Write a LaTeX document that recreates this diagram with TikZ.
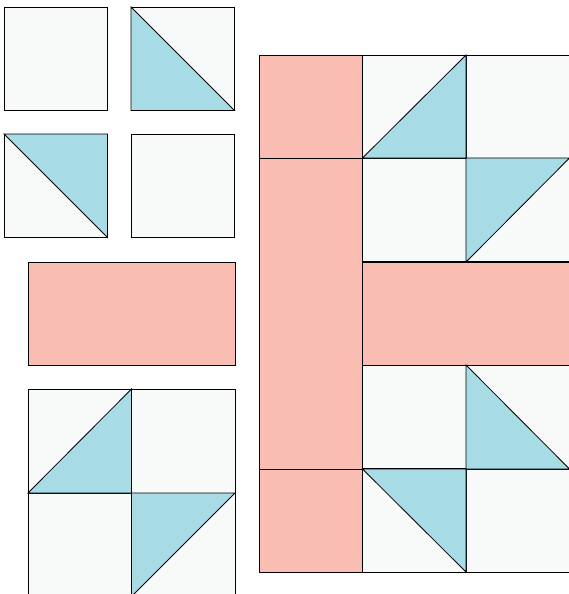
\documentclass[tikz,border=0pt]{standalone}
\definecolor{qsPink}{RGB}{249,189,180}
\definecolor{qsBlue}{RGB}{167,220,230}
\definecolor{qsBase}{RGB}{248,250,250}
\usepackage{tikz}
\usetikzlibrary{positioning}

\begin{document}
\begin{tikzpicture}[x=1pt,y=-1pt,line width=0.8pt]
    \tikzset{
        patch/.style={fill=qsBase, draw=black},
        tri/.style={fill=qsBlue, draw=black},
        bar/.style={fill=qsPink, draw=black}
    }
    \useasboundingbox (0,0) rectangle (568,594);
    \def\u{103.5}

    % loose pieces (top left)
    \draw[patch] (4,7) rectangle ++(\u,\u);
    \draw[patch] (131,7) rectangle ++(\u,\u);
    \draw[tri] (131,7) -- (131,110.5) -- (234.5,110.5) -- cycle;
    \draw[patch] (4,134) rectangle ++(\u,\u);
    \draw[tri] (4,134) -- (107.5,134) -- (107.5,237.5) -- cycle;
    \draw[patch] (131,134) rectangle ++(\u,\u);

    % loose bar
    \draw[bar] (28,262) rectangle (235,365);

    % loose four-patch (cut off at bottom)
    \draw[patch] (28,389) rectangle (131.5,493);
    \draw[patch] (131.5,389) rectangle (235,493);
    \draw[patch] (28,493) rectangle (131.5,600);
    \draw[patch] (131.5,493) rectangle (235,600);
    \draw[tri] (131.5,389) -- (131.5,493) -- (28,493) -- cycle;
    \draw[tri] (131.5,493) -- (235,493) -- (131.5,596.5) -- cycle;

    % block (right), columns at 259 / 362.5 / 466 / 569.5
    \draw[bar] (259,55) rectangle (362.5,158);
    \draw[bar] (259,158) rectangle (362.5,469);
    \draw[bar] (259,469) rectangle (362.5,572);
    \foreach \y in {55,158,365,469}{
        \draw[patch] (362.5,\y) rectangle ++(\u,\u);
        \draw[patch] (466,\y) rectangle ++(\u,\u);
    }
    \draw[bar] (362.5,262) rectangle (570,365);
    % half-square triangles
    \draw[tri] (466,55) -- (466,158) -- (362.5,158) -- cycle;
    \draw[tri] (466,158) -- (569.5,158) -- (466,262) -- cycle;
    \draw[tri] (466,365) -- (466,469) -- (569.5,469) -- cycle;
    \draw[tri] (362.5,469) -- (466,469) -- (466,572) -- cycle;
\end{tikzpicture}
\end{document}
